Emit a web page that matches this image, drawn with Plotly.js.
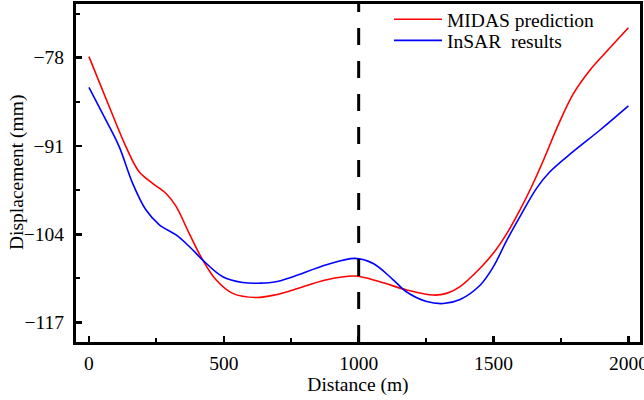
<!DOCTYPE html>
<html>
<head>
<meta charset="utf-8">
<script src="https://cdn.plot.ly/plotly-3.0.1.min.js"></script>
<style>html,body{margin:0;padding:0;background:#fff;}#chart{width:644px;height:400px;}</style>
</head>
<body>
<div id="chart"></div>
<script>
// Data
const midasX = [0, 75, 137, 186, 236, 286, 323, 372, 422, 471, 533, 619, 693, 757, 881, 986, 1079, 1178, 1277, 1326, 1376, 1450, 1499, 1549, 1598, 1641, 1685, 1740, 1796, 1858, 1919, 2000];
const midasY = [-77.85, -85.2, -91.1, -94.8, -96.5, -98.0, -99.9, -103.9, -107.8, -110.7, -112.7, -113.3, -112.9, -112.2, -110.7, -110.15, -111.0, -112.2, -112.95, -112.7, -111.7, -109.0, -106.8, -103.9, -100.4, -97.0, -93.1, -87.9, -83.3, -79.8, -77.1, -73.6];
const insarX = [0, 63, 112, 162, 211, 261, 323, 372, 422, 496, 570, 634, 693, 757, 881, 986, 1054, 1128, 1178, 1252, 1314, 1376, 1450, 1499, 1549, 1598, 1660, 1709, 1796, 1895, 2000];
const insarY = [-82.36, -87.2, -91.1, -96.5, -100.4, -102.6, -104.1, -105.8, -107.8, -110.25, -111.1, -111.2, -111.0, -110.25, -108.5, -107.55, -108.3, -110.7, -112.5, -113.9, -114.2, -113.6, -111.5, -108.8, -104.9, -101.4, -97.2, -94.8, -91.8, -88.65, -85.1];
const seriesNames = ['MIDAS prediction', 'InSAR  results'];
const xTitle = 'Distance (m)';
const yTitle = 'Displacement (mm)';
const dividerX = 1000;

const font = 'Liberation Serif, Times New Roman, serif';

const traces = [
  {x: midasX, y: midasY, name: seriesNames[0], mode: 'lines', legend: 'legend', line: {color: '#ff0000', width: 1.6, shape: 'spline', smoothing: 1.0}},
  {x: insarX, y: insarY, name: seriesNames[1], mode: 'lines', legend: 'legend2', line: {color: '#0000ff', width: 1.6, shape: 'spline', smoothing: 1.0}}
];

const legendBase = {x: 0.555, xanchor: 'left', yanchor: 'top', bgcolor: 'rgba(0,0,0,0)',
  font: {family: font, size: 19.5, color: '#000'}, itemwidth: 48};

const layout = {
  width: 644, height: 400,
  margin: {l: 76, r: 4, t: 0, b: 58},
  paper_bgcolor: '#fff', plot_bgcolor: '#fff',
  font: {family: font, size: 19.5, color: '#000'},
  showlegend: true,
  legend: Object.assign({}, legendBase, {y: 1.0}),
  legend2: Object.assign({}, legendBase, {y: 0.938}),
  xaxis: {
    range: [-48, 2043], tickmode: 'linear', tick0: 0, dtick: 500,
    ticks: 'inside', ticklen: 6, tickwidth: 2.5, tickcolor: '#000',
    minor: {ticks: 'inside', ticklen: 4, tickwidth: 2, dtick: 250, tick0: 0, tickcolor: '#000'},
    showline: true, linewidth: 3, linecolor: '#000', mirror: true,
    showgrid: false, zeroline: false, ticklabeloverflow: 'allow',
    tickfont: {family: font, size: 19.5}, ticklabelstandoff: 2,
    title: {text: xTitle, font: {family: font, size: 19.5}, standoff: 0}
  },
  yaxis: {
    domain: [0, 0.9883],
    range: [-119.86, -70.1], tickmode: 'linear', tick0: -78, dtick: 13,
    ticks: 'inside', ticklen: 6, tickwidth: 2.5, tickcolor: '#000',
    minor: {ticks: 'inside', ticklen: 4, tickwidth: 2, dtick: 6.5, tick0: -78, tickcolor: '#000'},
    showline: true, linewidth: 3, linecolor: '#000', mirror: true,
    showgrid: false, zeroline: false,
    tickfont: {family: font, size: 19.5}, ticklabelstandoff: 5
  },
  annotations: [{
    text: yTitle, textangle: -90, xref: 'paper', yref: 'y domain',
    x: -0.1046, y: 0.5, xanchor: 'center', yanchor: 'middle', showarrow: false,
    font: {family: font, size: 19.5, color: '#000'}
  }],
  shapes: [{
    type: 'line', xref: 'x', yref: 'y domain', x0: dividerX, x1: dividerX, y0: 0, y1: 1,
    line: {color: '#000', width: 3, dash: '17px,16px'}
  }]
};

Plotly.newPlot('chart', traces, layout, {displayModeBar: false, staticPlot: true});
</script>
</body>
</html>
